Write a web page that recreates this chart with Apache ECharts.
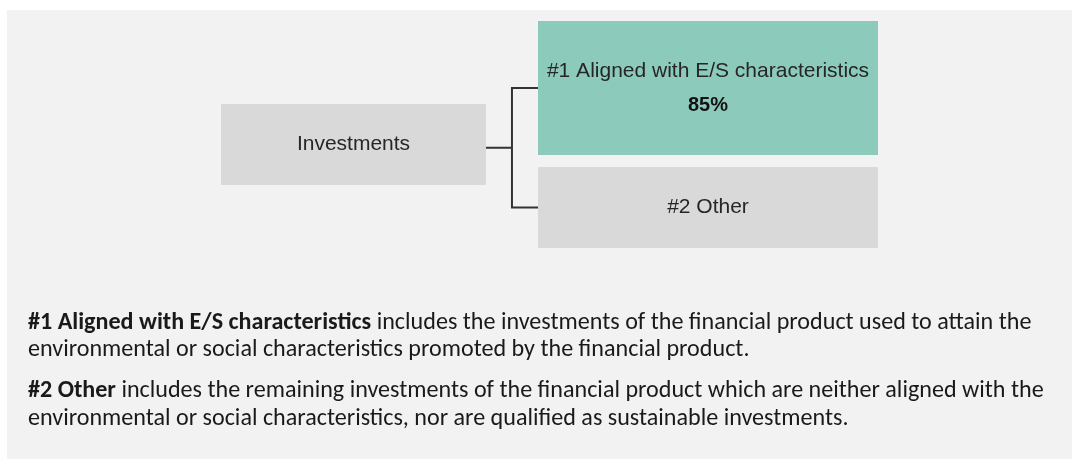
<!DOCTYPE html>
<html><head><meta charset="utf-8">
<script src="https://cdn.jsdelivr.net/npm/echarts@6/dist/echarts.min.js"></script>
<style>html,body{margin:0;padding:0;background:#fff}#c{width:1072px;height:459px}</style>
</head><body><div id="c"></div>
<script>
// ---- data ----
const rootName = 'Investments';
const branchNames = ['#1 Aligned with E/S characteristics', '#2 Other'];
const branchShares = [85, null];
const noteTitles = ['#1 Aligned with E/S characteristics', '#2 Other'];
const noteLine1 = [' includes the investments of the financial product used to attain the',
                   ' includes the remaining investments of the financial product which are neither aligned with the'];
const noteLine2 = ['environmental or social characteristics promoted by the financial product.',
                   'environmental or social characteristics, nor are qualified as sustainable investments.'];

// ---- styles ----
const diagFont = '"Liberation Sans", Arial, sans-serif';
const noteFont = 'Carlito, Lato, sans-serif';
const textColor = '#262626';

// fit note font size to reference line width
const cv = document.createElement('canvas').getContext('2d');
cv.font = 'bold 100px ' + noteFont;
let w = cv.measureText(noteTitles[0]).width;
cv.font = '100px ' + noteFont;
w += cv.measureText(noteLine1[0]).width;
const noteSize = Math.round(100 * 1004 / w * 10) / 10;

const chart = echarts.init(document.getElementById('c'), null, {renderer: 'canvas'});

const branchColors = ['#8ccbbb', '#d9d9d9'];
const branchSizes = [[340, 134], [340, 81]];
const children = branchNames.map((n, i) => ({
  name: n,
  value: branchShares[i],
  symbolSize: branchSizes[i],
  itemStyle: {color: branchColors[i], borderWidth: 0},
  label: {
    formatter: p => p.value != null ? '{t|' + p.name + '}\n{p|' + p.value + '%}' : '{t|' + p.name + '}'
  }
}));

const noteY = [323, 350, 391, 419];
const graphics = [{
  type: 'rect', z: -10, shape: {x: 7, y: 10, width: 1065, height: 449}, style: {fill: '#f2f2f2'}, silent: true
}];
for (let i = 0; i < 2; i++) {
  graphics.push({
    type: 'text', x: 28, y: noteY[i * 2], silent: true,
    style: {
      text: '{b|' + noteTitles[i] + '}{r|' + noteLine1[i] + '}',
      verticalAlign: 'middle', align: 'left',
      rich: {
        b: {fontFamily: noteFont, fontSize: noteSize, fontWeight: 'bold', fill: '#1a1a1a'},
        r: {fontFamily: noteFont, fontSize: noteSize, fill: '#1a1a1a'}
      }
    }
  });
  graphics.push({
    type: 'text', x: 28, y: noteY[i * 2 + 1], silent: true,
    style: {
      text: noteLine2[i], verticalAlign: 'middle', align: 'left',
      fontFamily: noteFont, fontSize: noteSize, fill: '#1a1a1a'
    }
  });
}

chart.setOption({
  animation: false,
  backgroundColor: '#ffffff',
  graphic: graphics,
  series: [{
    type: 'tree',
    orient: 'LR',
    left: 353.5, right: 364, top: 28.25, bottom: 191.75,
    edgeShape: 'polyline',
    edgeForkPosition: '44.7%',
    symbol: 'rect',
    expandAndCollapse: false,
    initialTreeDepth: -1,
    roam: false,
    silent: true,
    emphasis: {disabled: true},
    lineStyle: {color: '#333333', width: 2, curveness: 0},
    itemStyle: {borderWidth: 0},
    label: {
      position: 'inside',
      fontFamily: diagFont, fontSize: 21, color: textColor,
      rich: {
        t: {fontFamily: diagFont, fontSize: 21, color: textColor, lineHeight: 34},
        p: {fontFamily: diagFont, fontSize: 20, fontWeight: 'bold', color: '#111', lineHeight: 34}
      }
    },
    leaves: {label: {position: 'inside'}},
    data: [{
      name: rootName,
      symbolSize: [265, 81],
      symbolOffset: [0, -3.25],
      itemStyle: {color: '#d9d9d9', borderWidth: 0},
      label: {formatter: '{t|{b}}'},
      children: children
    }]
  }]
});
</script>
</body></html>
